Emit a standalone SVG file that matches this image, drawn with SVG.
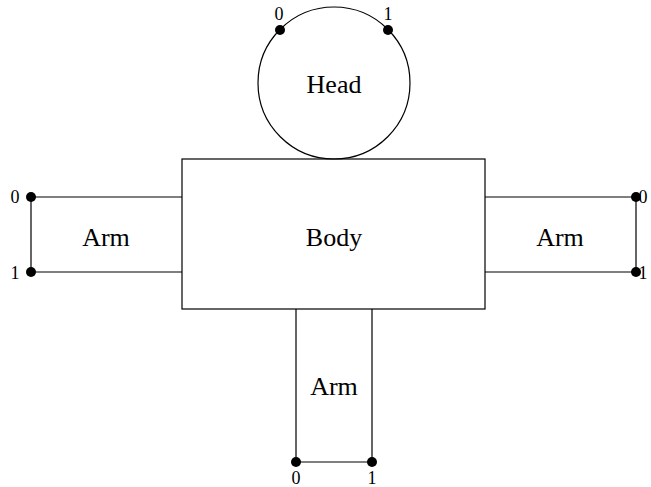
<svg xmlns="http://www.w3.org/2000/svg" width="651" height="487" viewBox="0 0 651 487">
<style>
.s{fill:none;stroke:#000;stroke-width:1.2}
.t{font-size:26px;text-anchor:middle;fill:#000}
.n{font-size:18px;text-anchor:middle;fill:#000}
.d{fill:#000}
</style>
<rect width="651" height="487" fill="#fff"/>
<g font-family="'Liberation Serif', 'DejaVu Serif', serif">
<g id="head">
<circle class="s" cx="334" cy="83" r="76"/>
<text class="t" x="334" y="93">Head</text>
<circle class="d" cx="280" cy="30" r="5"/>
<circle class="d" cx="388" cy="30" r="5"/>
<text class="n" x="279" y="20">0</text>
<text class="n" x="388" y="20">1</text>
</g>
<g id="body">
<rect class="s" x="182" y="159" width="303" height="150"/>
<text class="t" x="334" y="246">Body</text>
</g>
<g id="arm-left">
<polyline class="s" points="182,197 31,197 31,272 182,272"/>
<text class="t" x="106" y="246">Arm</text>
<circle class="d" cx="31" cy="197" r="5"/>
<circle class="d" cx="31" cy="272" r="5"/>
<text class="n" x="15" y="203">0</text>
<text class="n" x="15" y="279">1</text>
</g>
<g id="arm-right">
<polyline class="s" points="485,197 636,197 636,272 485,272"/>
<text class="t" x="560" y="246">Arm</text>
<circle class="d" cx="636" cy="197" r="5"/>
<circle class="d" cx="636" cy="272" r="5"/>
<text class="n" x="643" y="203" text-anchor="start">0</text>
<text class="n" x="643" y="279" text-anchor="start">1</text>
</g>
<g id="arm-bottom">
<polyline class="s" points="296,309 296,462 372,462 372,309"/>
<text class="t" x="334" y="395">Arm</text>
<circle class="d" cx="296" cy="462" r="5"/>
<circle class="d" cx="372" cy="462" r="5"/>
<text class="n" x="296" y="484">0</text>
<text class="n" x="372" y="484">1</text>
</g>
</g>
<g id="connectors"></g>
</svg>
